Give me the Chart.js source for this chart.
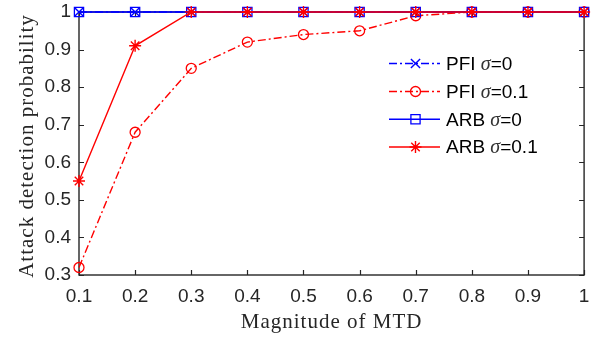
<!DOCTYPE html>
<html>
<head>
<meta charset="utf-8">
<script src="https://cdn.jsdelivr.net/npm/chart.js@4"></script>
<style>
  html, body { margin: 0; padding: 0; background: #fff; }
  canvas { display: block; }
</style>
</head>
<body>
<canvas id="c" width="592" height="337"></canvas>
<script>
// ---- data ----
const mtd = [0.1, 0.2, 0.3, 0.4, 0.5, 0.6, 0.7, 0.8, 0.9, 1];
const xTickLabels = ['0.1', '0.2', '0.3', '0.4', '0.5', '0.6', '0.7', '0.8', '0.9', '1'];
const yTickValues = [0.3, 0.4, 0.5, 0.6, 0.7, 0.8, 0.9, 1];
const yTickLabels = ['0.3', '0.4', '0.5', '0.6', '0.7', '0.8', '0.9', '1'];
const pfiSigma0 = [1, 1, 1, 1, 1, 1, 1, 1, 1, 1];
const pfiSigma01 = [0.32, 0.68, 0.85, 0.92, 0.94, 0.95, 0.99, 1, 1, 1];
const arbSigma0 = [1, 1, 1, 1, 1, 1, 1, 1, 1, 1];
const arbSigma01 = [0.55, 0.91, 1, 1, 1, 1, 1, 1, 1, 1];
const seriesNames = ['PFI', 'PFI', 'ARB', 'ARB'];
const seriesSigma = ['0', '0.1', '0', '0.1'];
const xTitle = 'Magnitude of MTD';
const yTitle = 'Attack detection probability';

const BLUE = '#0000ff', RED = '#ff0000', AXIS = '#262626';
const DASHDOT = [8, 3, 2, 3];
const pts = (ys) => mtd.map((x, i) => ({ x: x, y: ys[i] }));

const styles = [
  { color: BLUE, dash: DASHDOT, marker: 'crossRot', r: 6.5, bw: 1.4 },
  { color: RED, dash: DASHDOT, marker: 'circle', r: 5, bw: 1.3 },
  { color: BLUE, dash: [], marker: 'rect', r: 6.5, bw: 1.3 },
  { color: RED, dash: [], marker: 'star', r: 6, bw: 1.4 }
];
const seriesData = [pfiSigma0, pfiSigma01, arbSigma0, arbSigma01];

const datasets = seriesData.map((d, i) => ({
  label: seriesNames[i] + ' \u03c3=' + seriesSigma[i],
  data: pts(d),
  borderColor: styles[i].color,
  borderWidth: 1.4,
  borderDash: styles[i].dash,
  pointStyle: styles[i].marker,
  pointRadius: styles[i].r,
  pointHoverRadius: styles[i].r,
  pointBorderColor: styles[i].color,
  pointBackgroundColor: 'rgba(0,0,0,0)',
  pointBorderWidth: styles[i].bw,
  fill: false,
  tension: 0,
  clip: false,
  order: 4 - i
}));

const frame = {
  id: 'frame',
  beforeDatasetsDraw(chart) {
    const { ctx, chartArea: a, scales: { x, y } } = chart;
    ctx.save();
    ctx.strokeStyle = AXIS;
    ctx.lineWidth = 1.2;
    ctx.setLineDash([]);
    const L = 5;
    ctx.beginPath();
    mtd.forEach(v => {
      const px = Math.round(x.getPixelForValue(v)) + 0.5;
      ctx.moveTo(px, a.bottom); ctx.lineTo(px, a.bottom - L);
      ctx.moveTo(px, a.top); ctx.lineTo(px, a.top + L);
    });
    yTickValues.forEach(v => {
      const py = Math.round(y.getPixelForValue(v)) + 0.5;
      ctx.moveTo(a.left, py); ctx.lineTo(a.left + L, py);
      ctx.moveTo(a.right, py); ctx.lineTo(a.right - L, py);
    });
    ctx.stroke();
    ctx.lineWidth = 1.4;
    ctx.strokeRect(a.left, a.top, a.right - a.left, a.bottom - a.top);
    ctx.restore();
  },
  afterDraw(chart) {
    const { ctx, chartArea: a } = chart;
    ctx.save();
    // axis titles
    ctx.fillStyle = '#262626';
    ctx.font = '21px "Liberation Serif", "Times New Roman", serif';
    ctx.letterSpacing = '1px';
    ctx.textAlign = 'center';
    ctx.textBaseline = 'alphabetic';
    ctx.fillText(xTitle, (a.left + a.right) / 2, 328);
    ctx.save();
    ctx.translate(33, 146);
    ctx.rotate(-Math.PI / 2);
    ctx.fillText(yTitle, 0, 0);
    ctx.restore();
    ctx.letterSpacing = '0px';

    // legend
    const rows = [63.5, 91.5, 119.3, 147];
    const x0 = 389, x1 = 440, xm = 415.5, tx = 446;
    chart.data.datasets.forEach((ds, i) => {
      const yy = rows[i];
      const st = styles[i];
      ctx.strokeStyle = st.color;
      ctx.lineWidth = 1.4;
      ctx.setLineDash(st.dash);
      ctx.beginPath();
      ctx.moveTo(x0, yy); ctx.lineTo(x1, yy);
      ctx.stroke();
      ctx.setLineDash([]);
      ctx.fillStyle = 'rgba(0,0,0,0)';
      ctx.strokeStyle = st.color;
      ctx.lineWidth = st.bw;
      Chart.helpers.drawPoint(ctx, {
        pointStyle: st.marker, radius: st.r, borderWidth: st.bw, rotation: 0
      }, xm, yy);
      // text
      ctx.fillStyle = '#000';
      ctx.textAlign = 'left';
      ctx.textBaseline = 'middle';
      let cx = tx;
      ctx.font = '19px "Liberation Sans", Arial, sans-serif';
      const t1 = seriesNames[i] + ' ';
      ctx.fillText(t1, cx, yy + 1);
      cx += ctx.measureText(t1).width;
      ctx.font = 'italic 20px "Liberation Serif", "Times New Roman", serif';
      ctx.fillStyle = '#333';
      ctx.fillText('\u03c3', cx, yy + 1);
      cx += ctx.measureText('\u03c3').width;
      ctx.fillStyle = '#000';
      ctx.font = '19px "Liberation Sans", Arial, sans-serif';
      ctx.fillText('=' + seriesSigma[i], cx, yy + 1);
    });
    ctx.restore();
  }
};

new Chart(document.getElementById('c'), {
  type: 'line',
  data: { datasets: datasets },
  options: {
    responsive: false,
    animation: false,
    devicePixelRatio: 1,
    layout: { padding: { left: 0, right: 6, top: 12, bottom: 0 } },
    plugins: { legend: { display: false }, tooltip: { enabled: false } },
    scales: {
      x: {
        type: 'linear',
        min: 0.1, max: 1,
        grid: { display: false, drawTicks: false },
        border: { display: false },
        afterBuildTicks: (s) => { s.ticks = mtd.map(v => ({ value: v })); },
        ticks: {
          autoSkip: false, maxRotation: 0,
          padding: 10,
          color: '#262626',
          font: { family: '"Liberation Sans", Arial, sans-serif', size: 19 },
          callback: (v, i) => xTickLabels[i]
        },
        afterFit: (s) => { s.height = 62; s.paddingLeft = 0; s.paddingRight = 0; }
      },
      y: {
        type: 'linear',
        min: 0.3, max: 1,
        grid: { display: false, drawTicks: false },
        border: { display: false },
        afterBuildTicks: (s) => { s.ticks = yTickValues.map(v => ({ value: v })); },
        ticks: {
          autoSkip: false,
          padding: 8,
          color: '#262626',
          font: { family: '"Liberation Sans", Arial, sans-serif', size: 19 },
          callback: (v, i) => yTickLabels[i]
        },
        afterFit: (s) => { s.width = 79; s.paddingTop = 0; s.paddingBottom = 0; }
      }
    }
  },
  plugins: [frame]
});
</script>
</body>
</html>
